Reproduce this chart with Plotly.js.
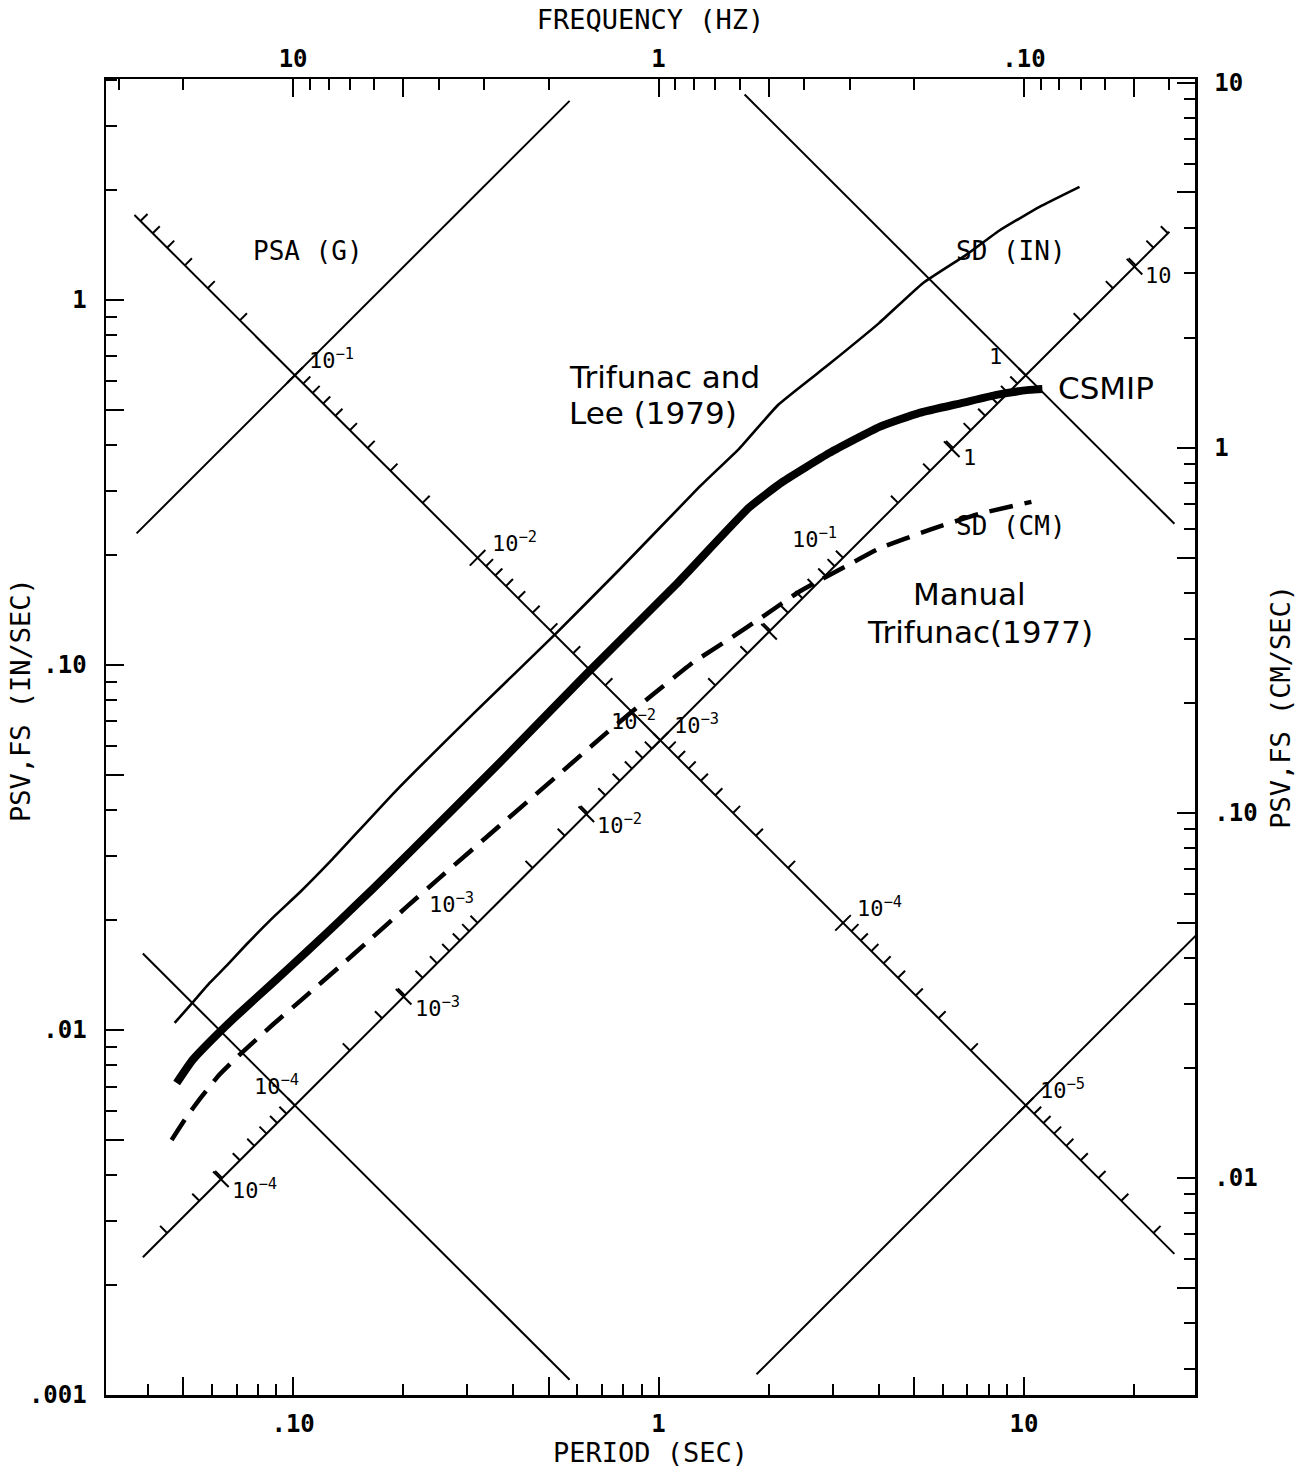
<!DOCTYPE html>
<html><head><meta charset="utf-8">
<script src="https://cdn.plot.ly/plotly-3.0.1.min.js"></script>
<style>body{margin:0;background:#fff}</style>
</head><body><div id="chart" style="width:1295px;height:1468px"></div>
<script>
// ---------------- DATA ----------------
// Trifunac and Lee (1979) - thin solid
const trifunacLeeT   = [0.0474,0.0538,0.0591,0.0658,0.0746,0.0879,0.1042,0.1283,0.1900,0.3125,0.526,0.782,1.295,1.663,2.130,2.931,4.020,5.277,6.961,8.570,11.03,14.19];
const trifunacLeePSV = [0.01045,0.01207,0.01345,0.01500,0.01717,0.02028,0.02379,0.02941,0.04491,0.07380,0.1224,0.1825,0.3077,0.3912,0.5167,0.6668,0.8649,1.109,1.330,1.549,1.798,2.040];
// CSMIP - thick solid
const csmipT   = [0.04801,0.0531,0.0617,0.0714,0.0879,0.1089,0.1340,0.1650,0.2084,0.3673,0.6353,1.120,1.774,2.184,2.937,4.024,5.177,6.786,8.410,10.35,11.23];
const csmipPSV = [0.00716,0.00828,0.00968,0.01113,0.01345,0.01637,0.01990,0.02431,0.03063,0.05392,0.09451,0.1666,0.2705,0.3172,0.3809,0.4488,0.4903,0.5222,0.5492,0.5667,0.5703];
// Manual Trifunac (1977) - dashed
const manualT   = [0.04651,0.0511,0.0555,0.0629,0.0727,0.0879,0.1089,0.1340,0.1650,0.2044,0.2517,0.3673,0.5358,0.7206,0.9629,1.239,1.594,1.925,2.431,3.332,4.024,5.512,7.555,10.48];
const manualPSV = [0.004996,0.005776,0.006462,0.007546,0.008699,0.01033,0.01244,0.01490,0.01794,0.02173,0.02609,0.03624,0.05031,0.06513,0.08287,0.1013,0.1193,0.1354,0.1589,0.1887,0.2085,0.2344,0.2593,0.2797];

// Tripartite grid: constant-PSA lines (g) and constant-SD lines (in), with period extents
const psaLinesG    = [0.1, 0.001, 1e-5];
const psaLinesTmin = [0.0373, 0.0388, 1.854];
const psaLinesTmax = [0.571, 25.0, 29.6];
const sdLinesIn    = [1, 0.01, 1e-4];
const sdLinesTmin  = [1.72, 0.0368, 0.0388];
const sdLinesTmax  = [25.8, 25.8, 0.571];
// Diagonal scales: PSA scale drawn along SD = 0.01 in, SD scale along PSA = 0.001 g
const psaScaleOnSD = 0.01, psaScaleTmin = 0.0368, psaScaleTmax = 25.8;
const sdScaleOnPSA = 0.001, sdScaleTmin = 0.0388, sdScaleTmax = 25.0;
const tickMultipliers = [1,2,3,4,5,6,7,8,9];
const psaTickDecades  = [1e-1,1e-2,1e-3,1e-4,1e-5,1e-6];
const psaLabelVals    = [1e-1,1e-2,1e-3,1e-4,1e-5];
const psaLabelText    = ['10<sup>−1</sup>','10<sup>−2</sup>','10<sup>−3</sup>','10<sup>−4</sup>','10<sup>−5</sup>'];
const sdInTickDecades = [1e-5,1e-4,1e-3,1e-2,1e-1,1];
const sdInLabelVals   = [1e-4,1e-3,1e-2,1e-1,1];
const sdInLabelText   = ['10<sup>−4</sup>','10<sup>−3</sup>','10<sup>−2</sup>','10<sup>−1</sup>','1'];
const sdCmTickVals    = [1e-4,1e-3,1e-2,1e-1,1,10];
const sdCmLabelVals   = [1e-4,1e-3,1e-2,1,10];
const sdCmLabelText   = ['10<sup>−4</sup>','10<sup>−3</sup>','10<sup>−2</sup>','1','10'];

// Axis ticks
const periodMajorVals = [0.1,1,10];
const periodMajorText = ['.10','1','10'];
const periodHalfVals  = [0.05,0.5,5];
const periodMinorVals = [0.04,0.06,0.07,0.08,0.09,0.2,0.3,0.4,0.6,0.7,0.8,0.9,2,3,4,6,7,8,9,20];
const freqMajorVals = [10,1,0.1];
const freqMajorText = ['10','1','.10'];
const freqHalfVals  = [5,0.5,0.05];
const freqMinorVals = [30,20,9,8,7,6,4,3,2,0.9,0.8,0.7,0.6,0.4,0.3,0.2,0.09,0.08,0.07,0.06,0.04];
const psvInMajorVals = [0.001,0.01,0.1,1];
const psvInMajorText = ['.001','.01','.10','1'];
const psvInHalfVals  = [0.005,0.05,0.5];
const psvInMinorVals = [0.002,0.003,0.004,0.006,0.007,0.008,0.009,0.02,0.03,0.04,0.06,0.07,0.08,0.09,0.2,0.3,0.4,0.6,0.7,0.8,0.9,2,3,4];
const psvCmMajorVals = [0.01,0.1,1,10];
const psvCmMajorText = ['.01','.10','1','10'];
const psvCmHalfVals  = [0.005,0.05,0.5,5];
const psvCmMinorVals = [0.003,0.004,0.006,0.007,0.008,0.009,0.02,0.03,0.04,0.06,0.07,0.08,0.09,0.2,0.3,0.4,0.6,0.7,0.8,0.9,2,3,4,6,7,8,9];

// ---------------- BUILD ----------------
const G_IN = 386.1, CM_PER_IN = 2.54, TWO_PI = 2*Math.PI;
const psvFromPSA = (a,T) => a*G_IN*T/TWO_PI;
const psvFromSD  = (d,T) => TWO_PI*d/T;
const PXDEC = 365;
const fac = len => Math.pow(10, len/(PXDEC*Math.SQRT2));
const mono = 'DejaVu Sans Mono';
const traces = [];
const lt = (x,y,line) => ({type:'scatter',mode:'lines',x:x,y:y,line:line,hoverinfo:'skip',showlegend:false});
const thinLine = {color:'#000',width:2};

psaLinesG.forEach((a,i)=>{ const T=[psaLinesTmin[i],psaLinesTmax[i]]; traces.push(lt(T,T.map(t=>psvFromPSA(a,t)),thinLine)); });
sdLinesIn.forEach((d,i)=>{ const T=[sdLinesTmin[i],sdLinesTmax[i]]; traces.push(lt(T,T.map(t=>psvFromSD(d,t)),thinLine)); });

const onPSAscale = v => { const w=Math.sqrt(v*G_IN/psaScaleOnSD); return [TWO_PI/w, w*psaScaleOnSD]; };
const onSDscale  = dIn => { const w=Math.sqrt(sdScaleOnPSA*G_IN/dIn); return [TWO_PI/w, w*dIn]; };
const tx=[], ty=[];
psaTickDecades.forEach(dec=>tickMultipliers.forEach(m=>{
  const [T,V]=onPSAscale(m*dec); if(T<psaScaleTmin||T>psaScaleTmax) return;
  if(m===1){const k=fac(11); tx.push(T/k,T*k,null); ty.push(V/k,V*k,null);}
  else {const k=fac(10); tx.push(T,T*k,null); ty.push(V,V*k,null);}
}));
sdInTickDecades.forEach(dec=>tickMultipliers.forEach(m=>{
  const [T,V]=onSDscale(m*dec); if(T<sdScaleTmin||T>sdScaleTmax) return;
  const k=fac(10); tx.push(T,T/k,null); ty.push(V,V*k,null);
}));
sdCmTickVals.forEach(c=>{
  const [T,V]=onSDscale(c/CM_PER_IN); const k=fac(11);
  tx.push(T*k,T/k,null); ty.push(V/k,V*k,null);
});
traces.push(lt(tx,ty,thinLine));

// Response spectra
traces.push(lt(trifunacLeeT,trifunacLeePSV,{color:'#000',width:2.6,shape:'spline',smoothing:0.4}));
traces.push(lt(csmipT,csmipPSV,{color:'#000',width:8,shape:'spline',smoothing:0.4}));
traces.push(lt(manualT,manualPSV,{color:'#000',width:4.5,dash:'24px,12px',shape:'spline',smoothing:0.4}));
// empty traces binding the extra axes
[['x2','y'],['x3','y'],['x4','y'],['x','y2'],['x','y3'],['x','y4']].forEach(p=>
  traces.push({type:'scatter',mode:'lines',x:[],y:[],xaxis:p[0],yaxis:p[1],showlegend:false,hoverinfo:'skip'}));

const L = Math.log10;
const ann = [];
const diagFont = {family:mono,size:22,color:'#000'};
const sdInLabelDx = [6,-2,-2,-4,-22];
psaLabelVals.forEach((v,i)=>{ const [T,V]=onPSAscale(v);
  ann.push({x:L(T),y:L(V),xref:'x',yref:'y',text:psaLabelText[i],showarrow:false,xanchor:'left',yanchor:'bottom',xshift:12,yshift:0,font:diagFont}); });
sdInLabelVals.forEach((v,i)=>{ const [T,V]=onSDscale(v);
  ann.push({x:L(T),y:L(V),xref:'x',yref:'y',text:sdInLabelText[i],showarrow:false,xanchor:'right',yanchor:'bottom',xshift:sdInLabelDx[i],yshift:4,font:diagFont}); });
sdCmLabelVals.forEach((c,i)=>{ const [T,V]=onSDscale(c/CM_PER_IN);
  ann.push({x:L(T),y:L(V),xref:'x',yref:'y',text:sdCmLabelText[i],showarrow:false,xanchor:'left',yanchor:'top',xshift:9,yshift:6,font:diagFont}); });

const plotterFont = {family:mono,size:26,color:'#000'};
const sansFont = {family:'DejaVu Sans',size:31,color:'#000'};
const textLabels = [
  {t:'PSA (G)', x:-0.9603, y:0.1342, a:'center', f:plotterFont},
  {t:'SD (IN)', x:0.9658, y:0.1342, a:'center', f:plotterFont},
  {t:'SD (CM)', x:0.9658, y:-0.6192, a:'center', f:plotterFont},
  {t:'Trifunac and', x:-0.2517, y:-0.2110, a:'left', f:sansFont},
  {t:'Lee (1979)', x:-0.2517, y:-0.3096, a:'left', f:sansFont},
  {t:'CSMIP', x:1.0889, y:-0.2411, a:'left', f:sansFont},
  {t:'Manual', x:0.6922, y:-0.8055, a:'left', f:sansFont},
  {t:'Trifunac(1977)', x:0.5636, y:-0.9096, a:'left', f:sansFont}
];
textLabels.forEach(o=>ann.push({x:o.x,y:o.y,xref:'x',yref:'y',text:o.t,showarrow:false,xanchor:o.a,yanchor:'middle',font:o.f}));
const titleFont = {family:mono,size:27,color:'#000'};
ann.push({x:-0.079,y:0.528,xref:'paper',yref:'paper',text:'PSV,FS (IN/SEC)',textangle:-90,showarrow:false,xanchor:'center',yanchor:'middle',font:titleFont});
ann.push({x:1.079,y:0.523,xref:'paper',yref:'paper',text:'PSV,FS (CM/SEC)',textangle:-90,showarrow:false,xanchor:'center',yanchor:'middle',font:titleFont});

const tickFont = {family:mono,size:24,color:'#000',weight:'bold'};
const axBase = {type:'log',showline:true,linewidth:2.5,linecolor:'#000',ticks:'inside',ticklen:18,tickwidth:2,tickcolor:'#000',
  showgrid:false,zeroline:false,tickfont:tickFont,tickmode:'array',automargin:false};
const minorBase = {ticks:'inside',ticklen:11,tickwidth:2,tickcolor:'#000',showgrid:false};
const halfAx = (extra) => Object.assign({type:'log',showline:false,ticks:'inside',ticklen:18,tickwidth:2,tickcolor:'#000',
  showgrid:false,zeroline:false,showticklabels:false,tickmode:'array',automargin:false}, extra);

const xR = [-1.512,1.468], yR = [-3,0.605];
const yR2 = [yR[0]+Math.log10(CM_PER_IN), yR[1]+Math.log10(CM_PER_IN)];
const layout = {
  width:1295,height:1468,margin:{l:106,r:100,t:79,b:73},
  paper_bgcolor:'#fff',plot_bgcolor:'#fff',showlegend:false,hovermode:false,
  xaxis:Object.assign({},axBase,{range:xR,tickvals:periodMajorVals,ticktext:periodMajorText,
    minor:Object.assign({tickvals:periodMinorVals},minorBase),ticklabelstandoff:6,
    title:{text:'PERIOD (SEC)',font:titleFont,standoff:8}}),
  xaxis2:Object.assign({},axBase,{overlaying:'x',side:'top',anchor:'y',range:[-xR[0],-xR[1]],tickvals:freqMajorVals,ticktext:freqMajorText,
    minor:Object.assign({tickvals:freqMinorVals},minorBase),ticklabelstandoff:0,
    title:{text:'FREQUENCY (HZ)',font:titleFont,standoff:8}}),
  xaxis3:halfAx({overlaying:'x',side:'bottom',anchor:'y',range:xR,tickvals:periodHalfVals}),
  xaxis4:halfAx({overlaying:'x',side:'top',anchor:'y',range:[-xR[0],-xR[1]],tickvals:freqHalfVals}),
  yaxis:Object.assign({},axBase,{range:yR,tickvals:psvInMajorVals,ticktext:psvInMajorText,
    minor:Object.assign({tickvals:psvInMinorVals},minorBase),ticklabelstandoff:12}),
  yaxis2:Object.assign({},axBase,{overlaying:'y',side:'right',anchor:'x',range:yR2,
    tickvals:psvCmMajorVals,ticktext:psvCmMajorText,minor:Object.assign({tickvals:psvCmMinorVals},minorBase),ticklabelstandoff:12}),
  yaxis3:halfAx({overlaying:'y',side:'left',anchor:'x',range:yR,tickvals:psvInHalfVals}),
  yaxis4:halfAx({overlaying:'y',side:'right',anchor:'x',range:yR2,tickvals:psvCmHalfVals}),
  annotations:ann
};
Plotly.newPlot('chart',traces,layout,{staticPlot:true,displayModeBar:false});
</script></body></html>
